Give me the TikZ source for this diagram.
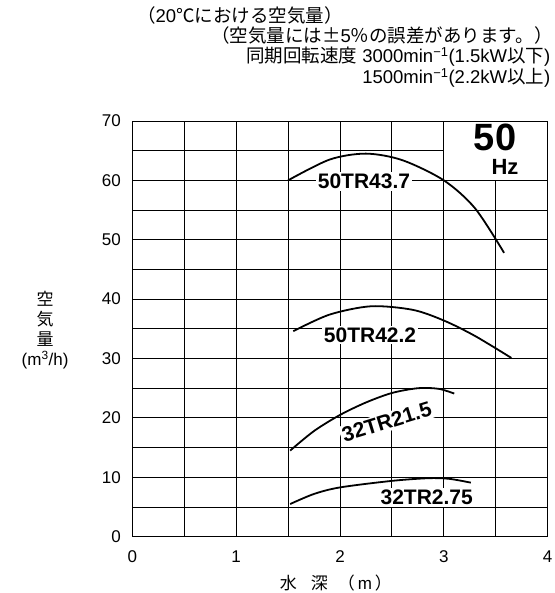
\documentclass[tikz,border=0pt]{standalone}
\usepackage{fontspec}
\setmainfont{Liberation Sans}
\newfontfamily\jp{Noto Sans CJK JP}
\begin{document}
\begin{tikzpicture}[x=103.85pt,y=5.939pt,
    gridline/.style={line width=0.9pt},
    curve/.style={line width=1.8pt},
    tick/.style={font=\fontsize{17}{17}\selectfont, inner sep=0pt},
    model/.style={font=\fontsize{21}{21}\bfseries\selectfont, fill=white, inner sep=2pt},
    note/.style={font=\fontsize{18.5}{18.5}\selectfont, inner sep=0pt}]
    \useasboundingbox (-1.274,-9.48) rectangle (4.061,90.37);
    \foreach \x in {0,0.5,...,4} \draw[gridline] (\x,0) -- (\x,70);
    \foreach \y in {0,5,...,70} \draw[gridline] (0,\y) -- (4,\y);
    \draw[gridline, fill=white] (3,60) rectangle (4,70);
    \node[font=\fontsize{38}{38}\bfseries\selectfont, inner sep=0pt] (hzval) at (3.493,67.2) {50};
    \node[font=\fontsize{22}{22}\bfseries\selectfont, inner sep=0pt] (hzunit) at (3.589,62.25) {Hz};
    \foreach \y in {0,10,...,70} \node[tick, anchor=east] (ytick\y) at (-0.109,\y) {\y};
    \foreach \x in {0,...,4} \node[tick] (xtick\x) at (\x,-3.42) {\x};
    \draw[curve] plot[smooth] coordinates {(1.5,60) (1.9,63.5) (2.25,64.5) (2.6,63.4) (3.0,60) (3.3,55.3) (3.58,47.8)};
    \draw[curve] plot[smooth] coordinates {(1.55,34.6) (1.9,37.4) (2.3,38.8) (2.7,38.2) (3.0,36.4) (3.3,33.8) (3.65,30.1)};
    \draw[curve] plot[smooth] coordinates {(1.52,14.5) (1.75,17.8) (2.0,20.5) (2.25,22.6) (2.5,24.2) (2.75,25.0) (2.95,24.9) (3.1,24.1)};
    \draw[curve] plot[smooth] coordinates {(1.52,5.5) (1.75,7.2) (2.0,8.3) (2.5,9.4) (2.85,9.85) (3.05,9.75) (3.26,9.1)};
    \node[model] (tr437) at (2.231,59.8) {50TR43.7};
    \node[model] (tr422) at (2.289,33.96) {50TR42.2};
    \node[model, rotate=17] (tr215) at (2.45,19.31) {32TR21.5};
    \node[model] (tr275) at (2.835,6.63) {32TR2.75};
    \node[note, align=center, font=\fontsize{17}{20}\selectfont] (ylabel) at (-0.84,34.8) {{\jp 空}\\{\jp 気}\\{\jp 量}\\(m\textsuperscript{3}/h)};
    \node[note, font=\fontsize{17}{17}\selectfont] (xlabel) at (1.96,-7.8) {{\jp 水}\hspace{14pt}{\jp 深}\hspace{10pt}{\jp （}\hspace{3pt}m\hspace{3pt}{\jp ）}};
    \node[note, anchor=west] (tempnote) at (0.045,87.84) {{\jp （}20{\jp ℃における空気量）}};
    \node[note, anchor=east] (errnote) at (3.995,84.47) {{\jp （空気量には±}5{\jp ％の誤差があります。）}\kern-0.3em};
    \node[note, anchor=east] (speed1) at (4.027,80.82) {{\jp 同期回転速度} 3000min\textsuperscript{−1}(1.5kW{\jp 以下})};
    \node[note, anchor=east] (speed2) at (4.027,77.19) {1500min\textsuperscript{−1}(2.2kW{\jp 以上})};
\end{tikzpicture}
\end{document}
